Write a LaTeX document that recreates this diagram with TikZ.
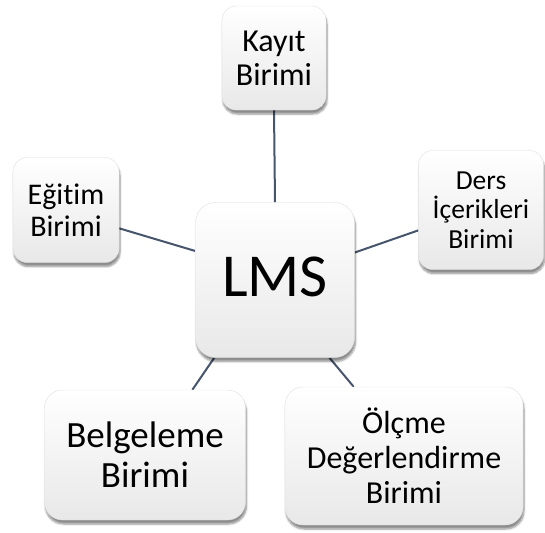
\documentclass[tikz,border=0pt]{standalone}
\usepackage{fontspec}
\setmainfont{Carlito}[Ligatures=NoCommon]
\usetikzlibrary{shadows.blur,backgrounds}
\definecolor{linkcol}{HTML}{46556C}
\tikzstyle{connector} = [line width=2pt, draw=linkcol]
\tikzstyle{unit} = [draw=gray!25, line width=0.4pt, rounded corners=14pt, top color=white, bottom color=gray!18, blur shadow={shadow xshift=1pt, shadow yshift=-4pt, shadow blur steps=6, shadow opacity=45}, align=center, inner sep=2pt, text=black]

\begin{document}
\begin{tikzpicture}[x=1pt,y=-1pt]
                \useasboundingbox (0,0) rectangle (545,532);
                \node (lms) [unit, rounded corners=20pt, minimum width=159pt, minimum height=155pt, font=\fontsize{61}{66}\selectfont] at (275,280) {\raisebox{6pt}{LMS}};
                \node (kayit) [unit, minimum width=104pt, minimum height=104pt, font=\fontsize{32}{34}\selectfont] at (274,58) {Kayıt\\Birimi};
                \node (egitim) [unit, minimum width=106pt, minimum height=105pt, font=\fontsize{30}{32}\selectfont] at (66,210) {Eğitim\\Birimi};
                \node (ders) [unit, minimum width=125pt, minimum height=119pt, font=\fontsize{27.5}{29.5}\selectfont] at (481,210) {Ders\\İçerikleri\\Birimi};
                \node (belge) [unit, rounded corners=18pt, minimum width=201pt, minimum height=130pt, font=\fontsize{37}{40}\selectfont] at (145,455) {Belgeleme\\Birimi};
                \node (olcme) [unit, rounded corners=18pt, minimum width=238pt, minimum height=138pt, font=\fontsize{32}{35}\selectfont] at (404,456) {Ölçme\\Değerlendirme\\Birimi};

                \begin{scope}[on background layer]
                \draw [connector] (kayit.south) -- (lms.north);
                \draw [connector] (egitim.-19) -- (lms.160);
                \draw [connector] (ders.198) -- (lms.19);
                \draw [connector] (belge.54) -- (lms.232);
                \draw [connector] (olcme.126) -- (lms.305);
                \end{scope}
            \end{tikzpicture}
\end{document}
